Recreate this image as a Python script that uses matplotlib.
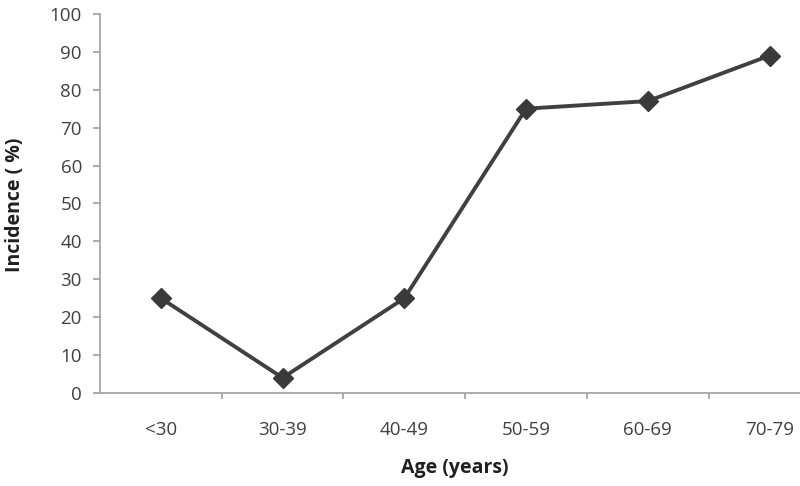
import matplotlib
matplotlib.use('Agg')
import matplotlib.pyplot as plt
import numpy as np

# data
age_groups = ['<30', '30-39', '40-49', '50-59', '60-69', '70-79']
incidence = [25, 4, 25, 75, 77, 89]
y_ticks = list(range(0, 101, 10))

plt.rcParams['font.family'] = ['Open Sans', 'DejaVu Sans']

fig = plt.figure(figsize=(8, 4.86), dpi=100)
ax = fig.add_axes([0.125, 0.1914, 0.875, 0.780])

x = np.arange(len(age_groups))
ax.plot(x, incidence, color='#404040', linewidth=2.8, marker='D',
        markersize=10, markerfacecolor='#3a3a3a', markeredgecolor='#3a3a3a',
        clip_on=False, zorder=3)

axis_grey = '#a6a6a6'
for side in ['top', 'right']:
    ax.spines[side].set_visible(False)
for side in ['left', 'bottom']:
    ax.spines[side].set_color(axis_grey)
    ax.spines[side].set_linewidth(1.3)

ax.set_yticks(y_ticks)
ax.tick_params(axis='y', length=5, width=1.3, color=axis_grey, pad=8,
               labelsize=13.5, labelcolor='#404040')

# category boundaries as major ticks, labels at the centres
ax.set_xticks(np.arange(len(age_groups)) + 0.5)
ax.set_xticklabels([])
ax.tick_params(axis='x', which='major', direction='out', length=4,
               width=1.3, color=axis_grey)
ax.set_xticks(x, minor=True)
ax.set_xticklabels(age_groups, minor=True)
ax.tick_params(axis='x', which='minor', length=0, pad=20, labelsize=13.5,
               labelcolor='#404040')

# the plot area runs past the right edge of the picture
ax.set_xlim(-0.5, 5.25)
ax.set_ylim(0, 100)

fig.text(0.019, 0.578, 'Incidence ( %)', rotation=90, ha='center',
         va='center', fontsize=14, fontweight='bold', color='#202020')
fig.text(0.569, 0.037, 'Age (years)', ha='center', va='center',
         fontsize=14, fontweight='bold', color='#202020')

fig.savefig('out.png', dpi=100)
